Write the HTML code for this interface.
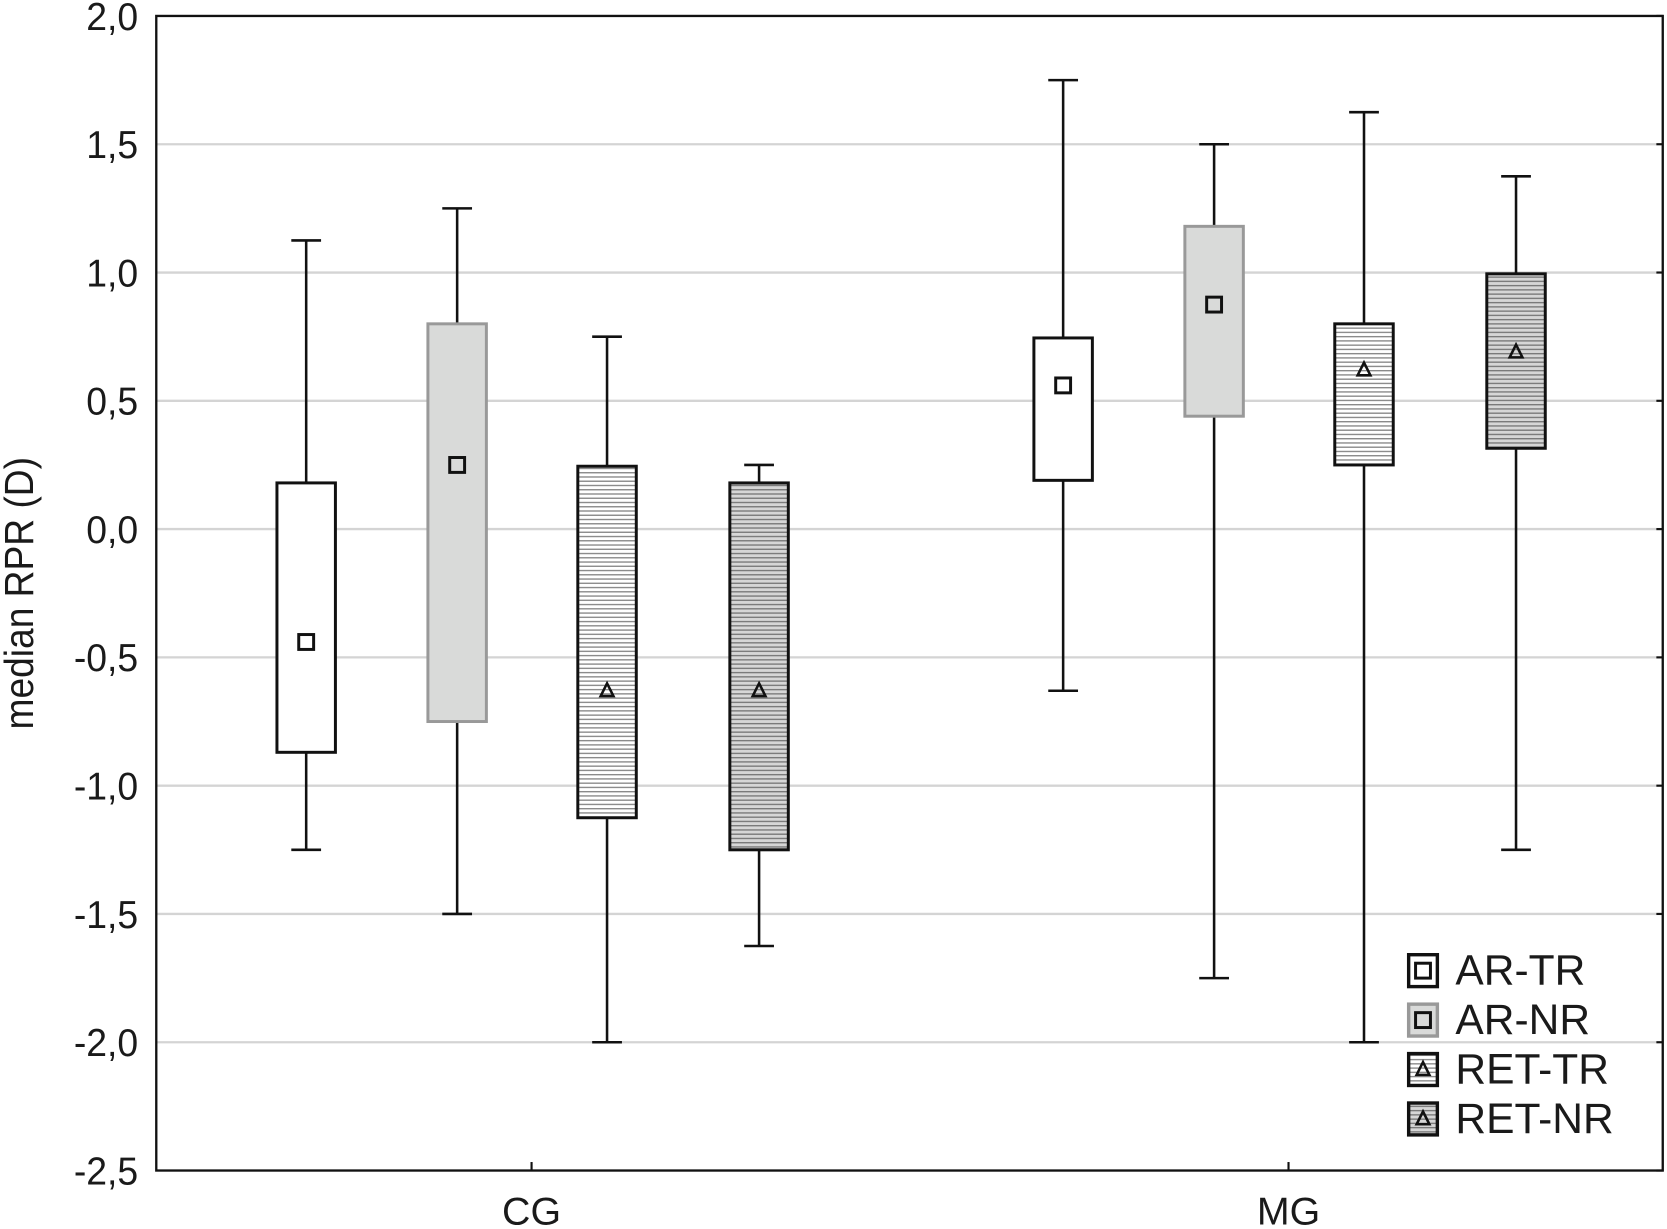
<!DOCTYPE html>
<html><head><meta charset="utf-8"><style>
html,body{margin:0;padding:0;background:#fff;}
svg{display:block;}
text{font-family:"Liberation Sans",Arial,sans-serif;fill:#1a1a1a;}
</style></head><body>
<svg id="chart" width="1667" height="1229" viewBox="0 0 1568 1156" preserveAspectRatio="none" xmlns="http://www.w3.org/2000/svg">
<defs>
<pattern id="stripeW" width="6" height="4" patternUnits="userSpaceOnUse"><rect width="6" height="4" fill="#fff"/><rect y="0" width="6" height="1.3" fill="#8a8a8a"/></pattern>
<pattern id="stripeG" width="6" height="4" patternUnits="userSpaceOnUse"><rect width="6" height="4" fill="#d6d6d6"/><rect y="0" width="6" height="1.3" fill="#7a7a7a"/></pattern>
</defs>
<g id="grid"></g>
<g id="boxes"></g>
<rect x="147" y="15" width="1417" height="1086" fill="none" stroke="#111" stroke-width="2.2"/>
<g id="axes"></g>
<text transform="translate(31,558) rotate(-90) scale(0.92,1)" text-anchor="middle" font-size="38">median RPR (D)</text>
<g id="legend"></g>
</svg>
<script>
const yTicks=[2.0,1.5,1.0,0.5,0.0,-0.5,-1.0,-1.5,-2.0,-2.5];
const groups=["CG","MG"];
const series=["AR-TR","AR-NR","RET-TR","RET-NR"];
const whiskHi=[[1.125,1.25,0.75,0.25],[1.75,1.5,1.625,1.375]];
const whiskLo=[[-1.25,-1.5,-2.0,-1.625],[-0.63,-1.75,-2.0,-1.25]];
const boxHi=[[0.18,0.8,0.245,0.18],[0.745,1.18,0.8,0.995]];
const boxLo=[[-0.87,-0.75,-1.125,-1.25],[0.19,0.44,0.25,0.315]];
const medians=[[-0.44,0.25,-0.63,-0.63],[0.56,0.875,0.62,0.69]];

const NS="http://www.w3.org/2000/svg";
const X0=147,X1=1564,Y0=15,Y1=1101;
const yMin=-2.5,yMax=2.0;
const y=v=>Y1-(v-yMin)/(yMax-yMin)*(Y1-Y0);
const gx=i=>500+i*712;
const offs=[-212,-70,71,214];
const BW=55;
const fills=["#fff","#d9dad9","url(#stripeW)","url(#stripeG)"];
const strokes=["#111","#999","#111","#111"];
const markers=["sq","sq","tri","tri"];
function el(t,a,p){const e=document.createElementNS(NS,t);for(const k in a)e.setAttribute(k,a[k]);p.appendChild(e);return e;}
const grid=document.getElementById('grid'),axes=document.getElementById('axes'),bx=document.getElementById('boxes'),lg=document.getElementById('legend');
yTicks.forEach(v=>{
  if(v<2&&v>-2.5){const l=el('line',{x1:X0,x2:X1,y1:y(v),y2:y(v),stroke:'#d4d4d4','stroke-width':2.2},grid);
  
  }
  const t=el('line',{x1:X1-6,x2:X1,y1:y(v),y2:y(v),stroke:'#111','stroke-width':2},axes);
  
  
  const tx=el('text',{x:130,y:y(v)+13,'text-anchor':'end','font-size':37,transform:`translate(130,0) scale(0.95,1) translate(-130,0)`},axes);
  tx.textContent=v.toFixed(1).replace('.',',');
  
  
});
groups.forEach((g,i)=>{
  const t=el('line',{x1:gx(i),x2:gx(i),y1:Y1,y2:Y1-8,stroke:'#111','stroke-width':2},axes);
  
  
  const tx=el('text',{x:gx(i),y:1152,'text-anchor':'middle','font-size':37},axes);
  tx.textContent=g;
  
  
});
function marker(kind,cx,cy,p){
  if(kind==='sq')return el('rect',{x:cx-7,y:cy-7,width:14,height:14,fill:'none',stroke:'#111','stroke-width':2.8},p);
  return el('path',{d:`M${cx-6},${cy+5}L${cx+6},${cy+5}L${cx},${cy-7}Z`,fill:'none',stroke:'#111','stroke-width':2.4},p);
}
groups.forEach((g,i)=>series.forEach((s,j)=>{
  const cx=gx(i)+offs[j];
  const grp=el('g',{},bx);
  
  
  el('line',{x1:cx,x2:cx,y1:y(whiskHi[i][j]),y2:y(whiskLo[i][j]),stroke:'#111','stroke-width':2.4},grp);
  el('line',{x1:cx-14,x2:cx+14,y1:y(whiskHi[i][j]),y2:y(whiskHi[i][j]),stroke:'#111','stroke-width':2.4},grp);
  el('line',{x1:cx-14,x2:cx+14,y1:y(whiskLo[i][j]),y2:y(whiskLo[i][j]),stroke:'#111','stroke-width':2.4},grp);
  el('rect',{x:cx-BW/2,y:y(boxHi[i][j]),width:BW,height:y(boxLo[i][j])-y(boxHi[i][j]),fill:fills[j],stroke:strokes[j],'stroke-width':2.8},grp);
  marker(markers[j],cx,y(medians[i][j]),grp);
}));
series.forEach((s,j)=>{
  const ly=912+j*46.5;
  const grp=el('g',{},lg);
  
  
  el('rect',{x:1325,y:ly-14,width:27,height:30,fill:fills[j],stroke:j===1?'#999':'#111','stroke-width':3.2},grp);
  marker(markers[j],1338.5,ly+1,grp);
  const t=el('text',{x:1369,y:ly+14,'font-size':40},grp);
  t.textContent=s;
});
</script>
</body></html>
